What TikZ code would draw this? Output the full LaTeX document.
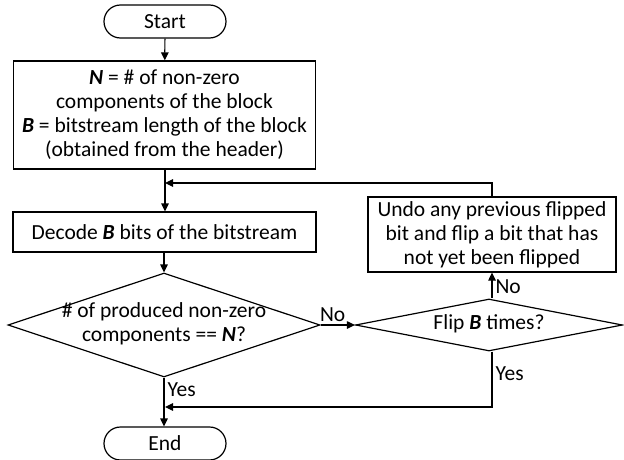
\documentclass[tikz,border=0pt]{standalone}
\usepackage{fontspec}
\setmainfont{Carlito}
\usetikzlibrary{shapes.misc,shapes.geometric,arrows.meta}
\newcommand{\flatbox}[1]{\makebox[0pt][c]{\begin{tabular}{@{}c@{}}#1\end{tabular}}}
\begin{document}
\begin{tikzpicture}[x=1pt,y=-1pt,
  every node/.style={font=\fontsize{21.5}{24}\selectfont},
  arr/.style={line width=1.2pt,-{Triangle[length=8pt,width=7.5pt]}},
  term/.style={draw,line width=1.2pt,rounded rectangle,minimum width=122pt,minimum height=33pt,inner sep=0pt},
  procbox/.style={draw,line width=1.2pt,rectangle,align=center,inner sep=0pt},
  decision/.style={draw,line width=1.2pt,diamond,aspect=3,inner sep=0pt,align=center},
  lbl/.style={inner sep=0pt}
]
\useasboundingbox (0,0) rectangle (624,460);
\node[term] (start) at (165,21.5) {Start};
\node[procbox,minimum width=302pt,minimum height=108pt] (init) at (164.5,115) {\textbf{\textit{N}} = \# of non-zero\\components of the block\\\textbf{\textit{B}} = bitstream length of the block\\(obtained from the header)};
\node[procbox,minimum width=303pt,minimum height=40pt] (decode) at (164.5,232) {Decode \textbf{\textit{B}} bits of the bitstream};
\node[decision,minimum width=312pt,minimum height=104pt] (check) at (164,325) {\flatbox{\# of produced non-zero\\components == \textbf{\textit{N}}?}};
\node[decision,minimum width=267pt,minimum height=52pt] (flip) at (489,325) {\flatbox{Flip \textbf{\textit{B}} times?}};
\node[procbox,minimum width=248pt,minimum height=75pt] (undo) at (492,234.5) {Undo any previous flipped\\bit and flip a bit that has\\not yet been flipped};
\node[term] (end) at (165,443.5) {End};
\coordinate (loop) at (165,183);
\coordinate (join) at (165,407);
\draw[arr] (start) -- (init);
\draw[arr] (init.south -| start) -- (decode.north -| start);
\draw[arr] (decode.south -| check) -- (check.north);
\draw[arr] (check.east) -- node[lbl,above=3pt,pos=0.35]{No} (flip.west);
\draw[arr] (flip.north -| undo) -- node[lbl,right=3pt,pos=0.45]{No} (undo.south);
\draw[arr] (undo.north) |- (loop);
\draw[arr] (check.south) -- node[lbl,right=3pt,pos=0.25]{Yes} (end.north -| check);
\draw[arr] (flip.south -| undo) |- node[lbl,right=3pt,pos=0.2]{Yes} (join);
\end{tikzpicture}
\end{document}
